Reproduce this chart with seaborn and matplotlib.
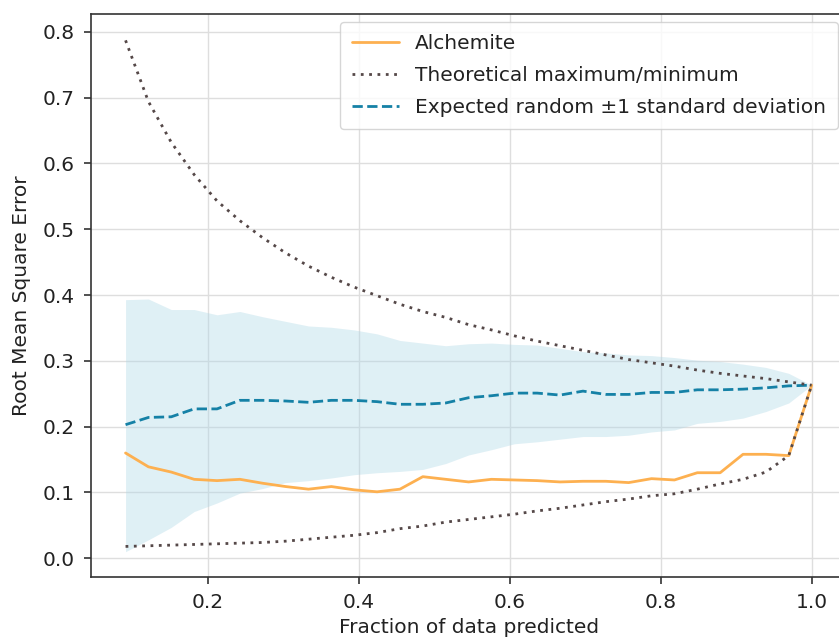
import matplotlib
matplotlib.use("Agg")
import matplotlib.pyplot as plt
import seaborn as sns
from matplotlib.lines import Line2D

# Fraction of the data set for which predictions are made
fraction = [0.0909, 0.1212, 0.1515, 0.1818, 0.2121, 0.2424, 0.2727, 0.3030,
            0.3333, 0.3636, 0.3939, 0.4242, 0.4545, 0.4848, 0.5152, 0.5455,
            0.5758, 0.6061, 0.6364, 0.6667, 0.6970, 0.7273, 0.7576, 0.7879,
            0.8182, 0.8485, 0.8788, 0.9091, 0.9394, 0.9697, 1.0000]

alchemite = [0.160, 0.139, 0.131, 0.120, 0.118, 0.120, 0.114, 0.109,
             0.105, 0.109, 0.104, 0.101, 0.105, 0.124, 0.120, 0.116,
             0.120, 0.119, 0.118, 0.116, 0.117, 0.117, 0.115, 0.121,
             0.119, 0.130, 0.130, 0.158, 0.158, 0.156, 0.263]

random_mean = [0.203, 0.214, 0.215, 0.227, 0.227, 0.240, 0.240, 0.239,
               0.237, 0.240, 0.240, 0.238, 0.234, 0.234, 0.236, 0.244,
               0.247, 0.251, 0.251, 0.248, 0.254, 0.249, 0.249, 0.252,
               0.252, 0.256, 0.256, 0.257, 0.259, 0.262, 0.263]

random_upper = [0.393, 0.394, 0.378, 0.378, 0.370, 0.375, 0.367, 0.360,
                0.353, 0.351, 0.347, 0.341, 0.331, 0.327, 0.323, 0.326,
                0.327, 0.325, 0.324, 0.319, 0.314, 0.312, 0.309, 0.308,
                0.305, 0.301, 0.299, 0.295, 0.290, 0.281, 0.263]

random_lower = [0.010, 0.028, 0.047, 0.071, 0.084, 0.099, 0.106, 0.115,
                0.118, 0.122, 0.127, 0.130, 0.132, 0.135, 0.144, 0.157,
                0.165, 0.174, 0.177, 0.181, 0.185, 0.185, 0.187, 0.192,
                0.195, 0.205, 0.208, 0.213, 0.223, 0.236, 0.263]

theory_max = [0.787, 0.694, 0.632, 0.583, 0.543, 0.513, 0.487, 0.464,
              0.444, 0.427, 0.412, 0.399, 0.386, 0.375, 0.366, 0.355,
              0.347, 0.338, 0.330, 0.323, 0.316, 0.309, 0.302, 0.297,
              0.292, 0.286, 0.281, 0.277, 0.273, 0.268, 0.263]

theory_min = [0.018, 0.019, 0.020, 0.021, 0.022, 0.023, 0.024, 0.026,
              0.029, 0.032, 0.035, 0.039, 0.045, 0.049, 0.055, 0.059,
              0.063, 0.067, 0.072, 0.076, 0.081, 0.086, 0.090, 0.095,
              0.098, 0.105, 0.113, 0.120, 0.131, 0.156, 0.263]

labels = ["Alchemite", "Theoretical maximum/minimum",
          "Expected random \u00b11 standard deviation"]

ORANGE = "#fdb050"
BLUE = "#1581a6"
DOTS = "#554848"
FS = 14.5

sns.set_style("whitegrid", {
    "grid.color": "#dedede",
    "axes.edgecolor": "#333333",
    "xtick.bottom": True,
    "ytick.left": True,
    "xtick.color": "#333333",
    "ytick.color": "#333333",
})
plt.rcParams["font.family"] = ["DejaVu Sans"]
plt.rcParams["font.size"] = FS

fig = plt.figure(figsize=(8.39, 6.41), dpi=100)
ax = fig.add_axes([0.1088, 0.1003, 0.8995, 0.8778])

ax.fill_between(fraction, random_lower, random_upper,
                color="lightblue", alpha=0.38, lw=0, zorder=1)
sns.lineplot(x=fraction, y=random_mean, ax=ax, color=BLUE, lw=2,
             linestyle="--", zorder=3)
sns.lineplot(x=fraction, y=alchemite, ax=ax, color=ORANGE, lw=2, zorder=4)
for curve in (theory_max, theory_min):
    sns.lineplot(x=fraction, y=curve, ax=ax, color=DOTS, lw=2,
                 linestyle=(0, (1, 2)), zorder=5)

ax.set_xlim(0.0455, 1.0455)
ax.set_ylim(-0.028, 0.827)
ax.set_yticks([0.0, 0.1, 0.2, 0.3, 0.4, 0.5, 0.6, 0.7, 0.8])
ax.set_xticks([0.2, 0.4, 0.6, 0.8, 1.0])
ax.tick_params(labelsize=FS, length=5, width=1.2, colors="#333333",
               labelcolor="#222222")
ax.tick_params(axis="y", pad=7)
ax.tick_params(axis="x", pad=7)
for s in ax.spines.values():
    s.set_linewidth(1.2)
ax.grid(True, lw=1, color="#dedede")

ax.set_xlabel("Fraction of data predicted", fontsize=FS, color="#222222",
              labelpad=4)
ax.set_ylabel("Root Mean Square Error", fontsize=FS, color="#222222",
              labelpad=8)

handles = [
    Line2D([], [], color=ORANGE, lw=2),
    Line2D([], [], color=DOTS, lw=2, linestyle=(0, (1, 2))),
    Line2D([], [], color=BLUE, lw=2, linestyle="--"),
]
leg = ax.legend(handles, labels, loc="upper right", fontsize=FS,
                handlelength=2.3, frameon=True, framealpha=0.8,
                edgecolor="#cccccc", borderaxespad=0.4, borderpad=0.6,
                labelspacing=0.63)
for t in leg.get_texts():
    t.set_color("#222222")

fig.savefig("out.png", dpi=100)
